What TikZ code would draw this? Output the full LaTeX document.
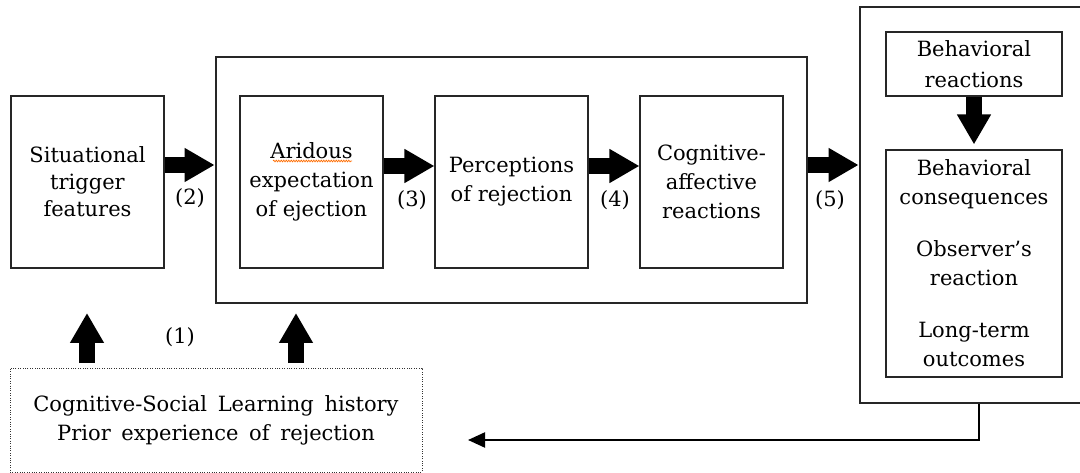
\documentclass[tikz,border=0pt]{standalone}
\usepackage{fontspec}
\setmainfont{DejaVu Serif}
\newfontfamily\histfont[WordSpace=1.6]{DejaVu Serif}
\usetikzlibrary{arrows.meta,decorations.pathmorphing}
\begin{document}
\begin{tikzpicture}[x=1pt,y=-1pt,
  box/.style={draw=black!85, line width=1.1pt, align=center, inner sep=0pt, font=\fontsize{21}{29}\selectfont},
  frame/.style={draw=black!85, line width=2.8pt, inner sep=0pt},
  fat/.style={line width=16pt, -{Triangle[length=30pt,width=32pt]}},
  thinarrow/.style={line width=2.2pt, -{Triangle[length=17pt,width=15pt]}},
  lbl/.style={font=\fontsize{21}{24}\selectfont, inner sep=0pt}]
\useasboundingbox (0,0) rectangle (1080,473);
\clip (0,0) rectangle (1080,473);
% boxes
\node[box, minimum width=153pt, minimum height=172pt, font=\fontsize{21}{27}\selectfont] (sit) at (87.5,182) {Situational\\trigger\\features};
\node[frame, minimum width=591pt, minimum height=246pt] (mid) at (511.5,180) {};
\node[box, minimum width=143pt, minimum height=172pt] (ari) at (311.5,182) {Aridous\\expectation\\of ejection};
\node[box, minimum width=153pt, minimum height=172pt] (per) at (511.5,182) {Perceptions\\of rejection};
\node[box, minimum width=143pt, minimum height=172pt] (cog) at (711.5,182) {Cognitive-\\affective\\reactions};
\node[frame, minimum width=230pt, minimum height=396pt] (right) at (975,205) {};
\node[box, minimum width=176pt, minimum height=64pt, font=\fontsize{21}{31}\selectfont] (br) at (974,64) {Behavioral\\reactions};
\node[box, minimum width=176pt, minimum height=227pt] (bc) at (974,263.5) {Behavioral\\consequences\\[23pt]Observer's\\reaction\\[23pt]Long-term\\outcomes};
\node[box, draw=black!80, line width=1pt, dash pattern=on 1pt off 1.4pt, minimum width=412pt, minimum height=104pt, font=\histfont\fontsize{21}{29}\selectfont] (hist) at (216,420) {Cognitive-Social Learning history\\Prior experience of rejection};
% spell-check underline
\draw[orange!85!red, line width=0.7pt, decorate, decoration={snake, amplitude=0.8pt, segment length=2.5pt}] (273,161) -- (352,161);
% fat arrows
\draw[fat] ([yshift=17pt]sit.east) -- ([yshift=17pt]sit.east -| mid.west);
\draw[fat] ([yshift=16pt]ari.east) -- ([yshift=16pt]ari.east -| per.west);
\draw[fat] ([yshift=16pt]per.east) -- ([yshift=16pt]per.east -| cog.west);
\draw[fat] ([yshift=15pt]mid.east) -- ([yshift=15pt]mid.east -| right.west);
\draw[fat] (br.south) -- ([yshift=5pt]bc.north);
\coordinate (u1) at (87,313);
\coordinate (t1) at (87,363);
\coordinate (u2) at (296,313);
\coordinate (t2) at (296,363);
\draw[fat] (t1) -- (u1);
\draw[fat] (t2) -- (u2);
% feedback
\coordinate (fbc) at (979,440);
\coordinate (fb) at (468,440);
\draw[thinarrow] (fbc |- right.south) -- (fbc) -- (fb);
% labels
\node[lbl] (l1) at (180,337) {(1)};
\node[lbl] (l2) at (190,198) {(2)};
\node[lbl] (l3) at (412,200) {(3)};
\node[lbl] (l4) at (615,200) {(4)};
\node[lbl] (l5) at (830,200) {(5)};
\end{tikzpicture}
\end{document}
